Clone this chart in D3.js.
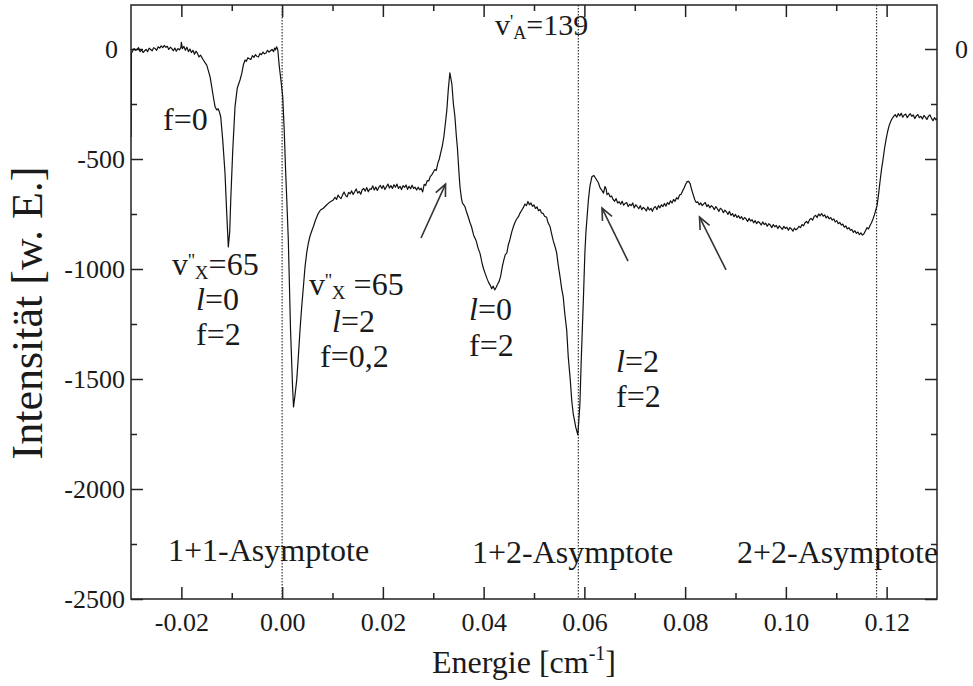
<!DOCTYPE html>
<html><head><meta charset="utf-8">
<script src="https://cdn.jsdelivr.net/npm/d3@7"></script>
<style>
body{margin:0;background:#fff;}
svg text{font-family:"Liberation Serif","Times New Roman",serif;fill:#1a1a1a;}
</style></head><body>
<svg id="chart" width="973" height="686"></svg>
<script>
// ---------- data ----------
const xDomain = [-0.03, 0.13];
const yDomain = [-2500, 200];
const xTicks = [-0.02, 0.00, 0.02, 0.04, 0.06, 0.08, 0.10, 0.12];
const xMinorTicks = [-0.01, 0.01, 0.03, 0.05, 0.07, 0.09, 0.11];
const yTicks = [0, -500, -1000, -1500, -2000, -2500];
const yMinorTicks = [-250, -750, -1250, -1750, -2250];
const asymptotes = [0, 0.0588, 0.118];
const asymptoteLabels = ["1+1-Asymptote", "1+2-Asymptote", "2+2-Asymptote"];

// spectrum: [Energie (cm^-1), Intensität (w. E.)]
const spectrum = [
[-0.0300,-400],[-0.02995,-20],[-0.0297,-10],[-0.0294,2],[-0.0291,-6],[-0.0288,-2],[-0.0285,6],[-0.0282,-12],
[-0.0279,-4],[-0.0276,-16],[-0.0273,-8],[-0.0270,-2],[-0.0267,-12],[-0.0264,4],[-0.0261,-2],[-0.0258,-8],
[-0.0255,6],[-0.0252,2],[-0.0249,-6],[-0.0246,10],[-0.0243,4],[-0.0240,14],[-0.0237,6],[-0.0234,16],
[-0.0231,8],[-0.0228,12],[-0.0225,-2],[-0.0222,8],[-0.0219,2],[-0.0216,-8],[-0.0213,4],[-0.0210,-10],
[-0.0207,2],[-0.0204,-4],[-0.0201,6],[-0.0200,30],[-0.0198,2],[-0.0195,12],[-0.0192,-6],[-0.0189,8],
[-0.0186,-12],[-0.0183,0],[-0.0180,-16],[-0.0177,-6],[-0.0174,-24],[-0.0171,-10],[-0.0168,-20],[-0.0165,-36],
[-0.0162,-28],[-0.01564,-50],[-0.0153,-62],[-0.01497,-73],[-0.01465,-98],[-0.01431,-126],[-0.01398,-171],[-0.01366,-217],
[-0.01332,-262],[-0.01298,-277],[-0.0127,-272],[-0.01247,-285],[-0.01219,-308],[-0.01179,-414],[-0.01134,-564],[-0.0110,-745],
[-0.01068,-900],[-0.0104,-830],[-0.0102,-686],[-0.0098,-459],[-0.00935,-262],[-0.0089,-177],[-0.00836,-141],[-0.0080,-110],
[-0.0077,-73],[-0.00736,-50],[-0.0071,-56],[-0.0068,-40],[-0.0065,-44],[-0.0062,-48],[-0.0059,-30],[-0.0056,-38],
[-0.0053,-26],[-0.0050,-34],[-0.0047,-36],[-0.0044,-20],[-0.0041,-26],[-0.0038,-14],[-0.0035,-22],[-0.0032,-18],
[-0.0029,-6],[-0.0026,-14],[-0.0023,-8],[-0.0020,-2],[-0.0017,-12],[-0.0015,4],[-0.0013,-4],[-0.0011,10],
[-0.00095,2],[-0.00085,-5],[-0.00072,-40],[-0.00056,-80],[-0.00028,-133],[0.00012,-217],[0.0004,-360],[0.00067,-540],
[0.00095,-700],[0.00123,-868],[0.00167,-1277],[0.00206,-1527],[0.00226,-1627],[0.00256,-1573],[0.0029,-1504],[0.00322,-1399],
[0.00355,-1277],[0.00389,-1171],[0.00425,-1073],[0.00455,-989],[0.00488,-927],[0.0052,-883],[0.00554,-850],[0.00588,-827],
[0.00619,-808],[0.00663,-777],[0.00719,-747],[0.00762,-732],[0.00818,-724],[0.00881,-709],[0.00951,-695],[0.01016,-686],
[0.0105,-674],[0.0108,-684],[0.0111,-664],[0.0114,-673],[0.0117,-680],[0.0120,-663],[0.0123,-650],[0.0126,-665],
[0.0129,-672],[0.0132,-652],[0.0135,-658],[0.0138,-645],[0.0141,-661],[0.0144,-649],[0.0147,-636],[0.0150,-655],
[0.0153,-647],[0.0156,-660],[0.0159,-640],[0.0162,-634],[0.0165,-646],[0.0168,-630],[0.0171,-649],[0.0174,-636],
[0.0177,-638],[0.0180,-622],[0.0183,-641],[0.0186,-627],[0.0189,-643],[0.0192,-628],[0.0195,-620],[0.0198,-634],
[0.0201,-621],[0.0204,-639],[0.0207,-626],[0.0210,-614],[0.0213,-632],[0.0216,-621],[0.0219,-634],[0.0222,-617],
[0.0225,-628],[0.0228,-614],[0.0231,-634],[0.0234,-624],[0.0237,-639],[0.0240,-621],[0.0243,-629],[0.0246,-618],
[0.0249,-638],[0.0252,-624],[0.0255,-635],[0.0258,-619],[0.0261,-634],[0.0264,-628],[0.0267,-641],[0.0270,-628],
[0.0273,-640],[0.0276,-633],[0.0279,-650],[0.0282,-615],[0.0285,-620],[0.0288,-598],[0.0291,-600],[0.0294,-580],
[0.0297,-572],[0.0300,-560],[0.0303,-548],[0.0306,-552],[0.0309,-520],[0.0312,-500],[0.0315,-470],[0.0318,-440],
[0.0321,-400],[0.0324,-340],[0.0327,-277],[0.0330,-180],[0.0333,-108],[0.0337,-160],[0.0340,-250],[0.0343,-307],
[0.0346,-400],[0.0348,-450],[0.0351,-560],[0.0353,-625],[0.0356,-680],[0.0358,-700],[0.0361,-710],[0.0363,-717],
[0.0366,-740],[0.0369,-760],[0.0373,-790],[0.0376,-808],[0.0380,-845],[0.0385,-870],[0.0389,-905],[0.0393,-930],
[0.0397,-975],[0.0400,-1000],[0.0403,-1020],[0.0407,-1045],[0.0410,-1062],[0.0413,-1073],[0.0416,-1090],[0.0419,-1078],
[0.0422,-1095],[0.0425,-1083],[0.0428,-1068],[0.0431,-1055],[0.0434,-1030],[0.0437,-990],[0.0440,-960],[0.0443,-935],
[0.0446,-928],[0.0449,-890],[0.0452,-868],[0.0456,-830],[0.0459,-808],[0.0462,-790],[0.0465,-775],[0.0469,-762],
[0.0472,-747],[0.0475,-735],[0.0479,-720],[0.0482,-705],[0.0485,-712],[0.0488,-693],[0.0491,-708],[0.0494,-700],
[0.0497,-715],[0.0500,-709],[0.0503,-725],[0.0506,-718],[0.0509,-735],[0.0512,-730],[0.0515,-745],[0.0518,-747],
[0.0521,-760],[0.0525,-765],[0.0528,-790],[0.0532,-808],[0.0535,-840],[0.0538,-870],[0.0542,-900],[0.0545,-927],
[0.0548,-980],[0.0552,-1040],[0.0555,-1090],[0.0558,-1126],[0.0561,-1200],[0.0565,-1280],[0.0568,-1400],[0.0572,-1504],
[0.0575,-1600],[0.0578,-1660],[0.0583,-1720],[0.0587,-1754],[0.0591,-1620],[0.0594,-1400],[0.0598,-1140],[0.0601,-927],
[0.0603,-836],[0.0608,-686],[0.0611,-623],[0.0615,-580],[0.0619,-575],[0.0623,-590],[0.0628,-609],[0.0631,-630],
[0.0634,-640],[0.0638,-655],[0.0641,-625],[0.0643,-634],[0.0645,-662],[0.0648,-655],[0.0651,-672],[0.0654,-668],
[0.0657,-684],[0.0660,-692],[0.0663,-680],[0.0666,-700],[0.0669,-694],[0.0672,-706],[0.0675,-692],[0.0678,-710],
[0.0681,-702],[0.0684,-698],[0.0687,-716],[0.0690,-706],[0.0693,-712],[0.0696,-700],[0.0699,-722],[0.0702,-708],
[0.0705,-716],[0.0708,-726],[0.0711,-712],[0.0714,-730],[0.0717,-720],[0.0720,-726],[0.0723,-736],[0.0726,-718],
[0.0729,-732],[0.0732,-724],[0.0735,-738],[0.0738,-722],[0.0741,-716],[0.0744,-730],[0.0747,-712],[0.0750,-722],
[0.0753,-708],[0.0756,-716],[0.0759,-702],[0.0762,-714],[0.0765,-698],[0.0768,-706],[0.0771,-690],[0.0774,-700],
[0.0777,-684],[0.0780,-692],[0.0783,-676],[0.0786,-682],[0.0789,-664],[0.0792,-660],[0.0795,-645],[0.0798,-632],
[0.0801,-615],[0.0804,-603],[0.0807,-602],[0.0810,-612],[0.0813,-640],[0.0816,-662],[0.0819,-684],[0.0822,-698],
[0.0825,-694],[0.0828,-708],[0.0831,-700],[0.0834,-712],[0.0837,-704],[0.0840,-698],[0.0843,-716],[0.0846,-708],
[0.0849,-722],[0.0852,-712],[0.0855,-718],[0.0858,-730],[0.0861,-716],[0.0864,-726],[0.0867,-738],[0.0870,-724],
[0.0873,-730],[0.0876,-744],[0.0879,-732],[0.0882,-740],[0.0885,-752],[0.0888,-738],[0.0891,-756],[0.0894,-748],
[0.0897,-762],[0.0900,-752],[0.0903,-766],[0.0906,-758],[0.0909,-770],[0.0912,-762],[0.0915,-776],[0.0918,-766],
[0.0921,-772],[0.0924,-784],[0.0927,-770],[0.0930,-782],[0.0933,-776],[0.0936,-790],[0.0939,-780],[0.0942,-794],
[0.0945,-784],[0.0948,-790],[0.0951,-800],[0.0954,-786],[0.0957,-798],[0.0960,-792],[0.0963,-806],[0.0966,-794],
[0.0969,-800],[0.0972,-812],[0.0975,-798],[0.0978,-808],[0.0981,-802],[0.0984,-816],[0.0987,-804],[0.0990,-812],
[0.0993,-820],[0.0996,-806],[0.0999,-816],[0.1002,-810],[0.1005,-824],[0.1008,-812],[0.1011,-818],[0.1014,-828],
[0.1017,-814],[0.1020,-822],[0.1023,-816],[0.1026,-806],[0.1029,-812],[0.1032,-798],[0.1035,-804],[0.1038,-790],
[0.1041,-784],[0.1044,-792],[0.1047,-776],[0.1050,-770],[0.1053,-778],[0.1056,-762],[0.1059,-756],[0.1062,-766],
[0.1065,-750],[0.1068,-758],[0.1071,-748],[0.1074,-760],[0.1077,-754],[0.1080,-768],[0.1083,-760],[0.1086,-772],
[0.1089,-766],[0.1092,-778],[0.1095,-772],[0.1098,-786],[0.1101,-780],[0.1104,-794],[0.1107,-788],[0.1110,-800],
[0.1113,-796],[0.1116,-810],[0.1119,-804],[0.1122,-818],[0.1125,-812],[0.1128,-824],[0.1131,-820],[0.1134,-834],
[0.1137,-826],[0.1140,-838],[0.1143,-832],[0.1146,-844],[0.1149,-836],[0.1152,-846],[0.1155,-840],[0.1158,-826],
[0.1161,-812],[0.1164,-818],[0.1167,-802],[0.1170,-790],[0.1173,-772],[0.1176,-752],[0.1179,-728],[0.1181,-712],
[0.1184,-660],[0.1187,-600],[0.1190,-545],[0.1193,-500],[0.1196,-450],[0.1199,-410],[0.1202,-375],[0.1205,-348],
[0.1208,-330],[0.1211,-316],[0.1214,-306],[0.1217,-298],[0.1220,-310],[0.1223,-294],[0.1226,-304],[0.1229,-292],
[0.1232,-310],[0.1235,-300],[0.1238,-296],[0.1241,-312],[0.1244,-302],[0.1247,-294],[0.1250,-306],[0.1253,-300],
[0.1256,-316],[0.1259,-304],[0.1262,-298],[0.1265,-312],[0.1268,-306],[0.1271,-318],[0.1274,-302],[0.1277,-310],
[0.1280,-320],[0.1283,-306],[0.1286,-300],[0.1289,-314],[0.1292,-326],[0.1295,-312],[0.1298,-322],[0.1300,-316]
];

// arrows in data coordinates: [tailE, tailI, headE, headI]
const arrows = [
  [0.02757, -859, 0.03244, -614],
  [0.06866, -964, 0.06350, -723],
  [0.08812, -1004, 0.08286, -764]
];

// ---------- drawing ----------
const svg = d3.select("#chart");
const L = 131, R = 937, T = 5, B = 599;
const x = d3.scaleLinear().domain(xDomain).range([L, R]);
const y = d3.scaleLinear().domain(yDomain).range([B, T]);
const axisColor = "#222";
const SERIF = '"Liberation Serif","Times New Roman",serif';

svg.append("defs").append("clipPath").attr("id", "clip")
  .append("rect").attr("x", L).attr("y", T).attr("width", R - L).attr("height", B - T);

function styleAxis(g) {
  g.attr("font-family", SERIF);
  g.select(".domain").remove();
  g.selectAll(".tick line").attr("stroke", axisColor).attr("stroke-width", 1.5);
  g.selectAll(".tick text").attr("fill", "#1a1a1a")
    .style("font-family", SERIF).style("font-size", "26px");
}

// bottom
svg.append("g").attr("transform", `translate(0,${B})`)
  .call(d3.axisBottom(x).tickValues(xTicks).tickSize(-12).tickSizeOuter(0).tickPadding(14)
    .tickFormat(d => d.toFixed(2))).call(styleAxis);
svg.append("g").attr("transform", `translate(0,${B})`)
  .call(d3.axisBottom(x).tickValues(xMinorTicks).tickSize(-6).tickSizeOuter(0).tickFormat("")).call(styleAxis);
// top
svg.append("g").attr("transform", `translate(0,${T})`)
  .call(d3.axisTop(x).tickValues(xTicks).tickSize(-12).tickSizeOuter(0).tickFormat("")).call(styleAxis);
svg.append("g").attr("transform", `translate(0,${T})`)
  .call(d3.axisTop(x).tickValues(xMinorTicks).tickSize(-6).tickSizeOuter(0).tickFormat("")).call(styleAxis);
// left
const gl = svg.append("g").attr("transform", `translate(${L},0)`)
  .call(d3.axisLeft(y).tickValues(yTicks).tickSize(-12).tickSizeOuter(0).tickPadding(6)
    .tickFormat(d => String(d))).call(styleAxis);
gl.selectAll(".tick text").filter(d => d === 0).attr("dx", "-7");
svg.append("g").attr("transform", `translate(${L},0)`)
  .call(d3.axisLeft(y).tickValues(yMinorTicks).tickSize(-6).tickSizeOuter(0).tickFormat("")).call(styleAxis);
// right
svg.append("g").attr("transform", `translate(${R},0)`)
  .call(d3.axisRight(y).tickValues(yTicks).tickSize(-12).tickSizeOuter(0).tickPadding(18)
    .tickFormat(d => d === 0 ? "0" : "")).call(styleAxis);
svg.append("g").attr("transform", `translate(${R},0)`)
  .call(d3.axisRight(y).tickValues(yMinorTicks).tickSize(-6).tickSizeOuter(0).tickFormat("")).call(styleAxis);

// frame
svg.append("rect").attr("x", L).attr("y", T).attr("width", R - L).attr("height", B - T)
  .attr("fill", "none").attr("stroke", axisColor).attr("stroke-width", 1.5);

// asymptote dotted lines
svg.append("g").selectAll("line").data(asymptotes).join("line")
  .attr("x1", d => x(d)).attr("x2", d => x(d)).attr("y1", T).attr("y2", B)
  .attr("stroke", "#333").attr("stroke-width", 1.2).attr("stroke-dasharray", "1.5,1.5");

// spectrum
svg.append("path").datum(spectrum).attr("clip-path", "url(#clip)")
  .attr("fill", "none").attr("stroke", "#111").attr("stroke-width", 1.2).attr("stroke-linejoin", "round")
  .attr("d", d3.line().x(d => x(d[0])).y(d => y(d[1])));

// arrows
const ag = svg.append("g").attr("stroke", "#333").attr("stroke-width", 1.6).attr("fill", "none");
arrows.forEach(a => {
  const x1 = x(a[0]), y1 = y(a[1]), x2 = x(a[2]), y2 = y(a[3]);
  const ang = Math.atan2(y2 - y1, x2 - x1), hl = 13, hw = 0.42;
  ag.append("line").attr("x1", x1).attr("y1", y1).attr("x2", x2).attr("y2", y2);
  ag.append("path").attr("d",
    `M${x2 - hl * Math.cos(ang - hw)},${y2 - hl * Math.sin(ang - hw)}L${x2},${y2}L${x2 - hl * Math.cos(ang + hw)},${y2 - hl * Math.sin(ang + hw)}`);
});

// ---------- text ----------
const FS = 32;
function label(px, py, parts, fs) {
  const t = svg.append("text").attr("x", px).attr("y", py).style("font-size", (fs || FS) + "px");
  parts.forEach(p => {
    const s = t.append("tspan").text(p.t);
    if (p.it) s.style("font-style", "italic");
    if (p.fs) s.style("font-size", p.fs + "px");
    if (p.dx != null) s.attr("dx", p.dx);
    if (p.dy != null) s.attr("dy", p.dy);
  });
  return t;
}
function vLabel(px, py, sup, sub, rest, fs) {
  const f = fs || FS;
  const sf = Math.round(f * 0.6);
  return label(px, py, [
    {t: "v"},
    {t: sup, fs: sf, dy: -f * 0.25},
    {t: sub, fs: sf, dx: 0, dy: f * 0.37},
    {t: rest, dy: -f * 0.12}
  ], f);
}

label(163, 130, [{t: "f=0"}]);
vLabel(172, 275, "''", "X", "=65");
label(196, 310, [{t: "l", it: true}, {t: "=0"}]);
label(196, 345, [{t: "f=2"}]);
vLabel(309, 295, "''", "X", " =65");
label(332, 332, [{t: "l", it: true}, {t: "=2"}]);
label(320, 367, [{t: "f=0,2"}]);
label(469, 320, [{t: "l", it: true}, {t: "=0"}]);
label(469, 356, [{t: "f=2"}]);
label(616, 372, [{t: "l", it: true}, {t: "=2"}]);
label(616, 407, [{t: "f=2"}]);
vLabel(495, 35, "'", "A", "=139", 30);

const asymX = [168, 472, 737], asymY = [561, 563, 563];
asymptoteLabels.forEach((s, i) => label(asymX[i], asymY[i], [{t: s}]));

// axis titles
label(524, 673, [{t: "Energie [cm"}, {t: "-1", fs: 20, dy: -13}, {t: "]", dy: 13}]).attr("text-anchor", "middle");
svg.append("text").attr("transform", "translate(42,313) rotate(-90)").attr("text-anchor", "middle")
  .style("font-size", "44px").text("Intensität [w. E.]");
</script>
</body></html>
